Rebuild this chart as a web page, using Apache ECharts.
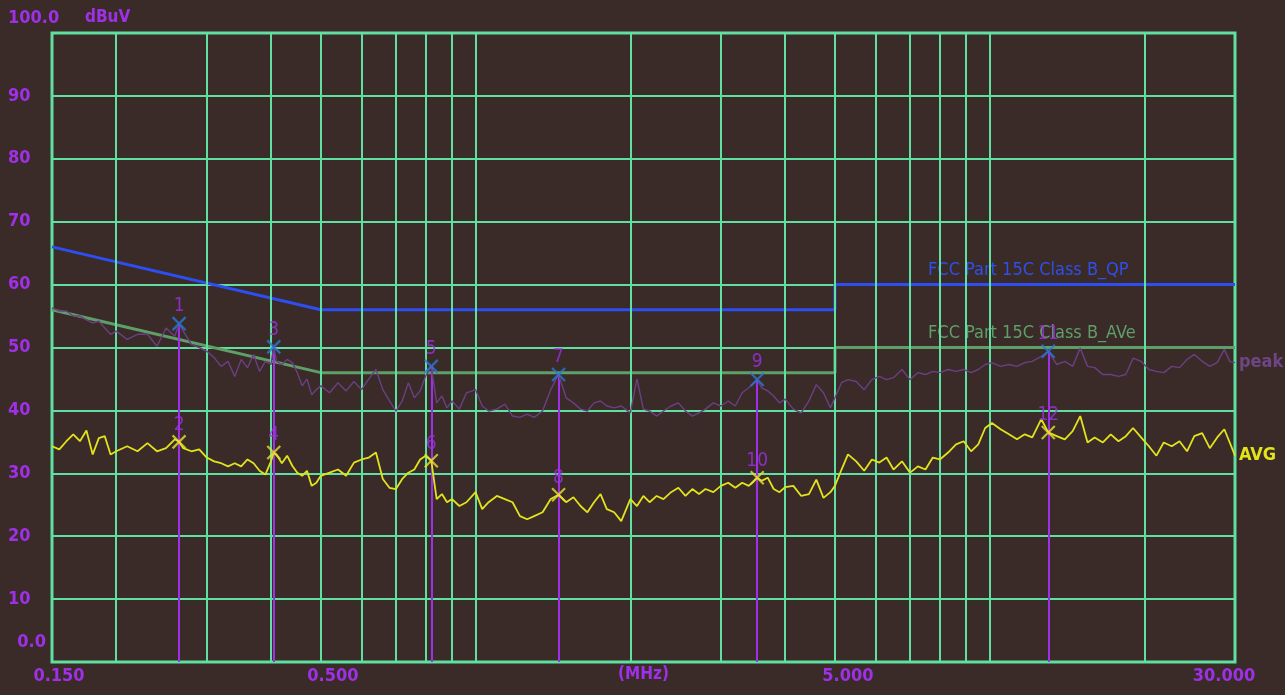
<!DOCTYPE html>
<html>
<head>
<meta charset="utf-8">
<script src="https://cdn.jsdelivr.net/npm/echarts@6/dist/echarts.min.js"></script>
<style>
  html, body { margin: 0; padding: 0; background: #3a2b29; }
  #chart { width: 1285px; height: 695px; }
</style>
</head>
<body>
<div id="chart"></div>
<script>
// Scan frequencies (MHz)
const freqs = [
  0.150, 0.155, 0.160, 0.165, 0.170, 0.175, 0.180, 0.185, 0.190, 0.195,
  0.200, 0.210, 0.220, 0.230, 0.240, 0.250, 0.260, 0.265, 0.270, 0.280,
  0.290, 0.300, 0.310, 0.320, 0.330, 0.340, 0.350, 0.360, 0.370, 0.380,
  0.390, 0.400, 0.405, 0.410, 0.420, 0.430, 0.440, 0.450, 0.460, 0.470,
  0.480, 0.490, 0.500, 0.520, 0.540, 0.560, 0.580, 0.600, 0.620, 0.640,
  0.660, 0.680, 0.700, 0.720, 0.740, 0.760, 0.780, 0.800, 0.820, 0.840,
  0.860, 0.880, 0.900, 0.930, 0.960, 1.00, 1.03, 1.06, 1.10, 1.14,
  1.18, 1.22, 1.26, 1.30, 1.35, 1.40, 1.45, 1.50, 1.55, 1.60,
  1.65, 1.70, 1.75, 1.80, 1.86, 1.92, 2.00, 2.06, 2.12, 2.18,
  2.25, 2.32, 2.40, 2.48, 2.56, 2.64, 2.72, 2.80, 2.90, 3.00,
  3.10, 3.20, 3.30, 3.40, 3.53, 3.60, 3.70, 3.80, 3.90, 4.00,
  4.15, 4.30, 4.45, 4.60, 4.75, 4.90, 5.00, 5.15, 5.30, 5.50,
  5.70, 5.90, 6.10, 6.30, 6.50, 6.75, 7.00, 7.25, 7.50, 7.75,
  8.00, 8.30, 8.60, 8.90, 9.20, 9.50, 9.80, 10.1, 10.5, 10.9,
  11.3, 11.7, 12.1, 12.6, 13.0, 13.5, 14.0, 14.5, 15.0, 15.5,
  16.0, 16.6, 17.2, 17.8, 18.4, 19.0, 19.7, 20.4, 21.1, 21.8,
  22.6, 23.4, 24.2, 25.0, 25.9, 26.8, 27.7, 28.6, 29.3, 30.0
];

// Peak detector trace (dBuV)
const peakLevels = [
  56.3, 55.8, 55.8, 55.0, 55.0, 54.4, 53.9, 54.2, 53.1, 52.1,
  52.6, 51.3, 52.1, 52.1, 50.2, 53.1, 51.8, 53.8, 52.6, 50.5,
  50.0, 49.4, 48.4, 47.0, 47.8, 45.4, 48.1, 46.8, 48.9, 46.2,
  47.8, 47.3, 50.1, 47.8, 47.3, 48.1, 47.6, 46.0, 43.9, 45.0,
  42.5, 43.3, 43.9, 42.8, 44.4, 43.1, 44.6, 43.3, 45.0, 46.5,
  43.3, 41.5, 39.9, 41.5, 44.4, 42.0, 43.1, 45.5, 47.0, 41.2,
  42.3, 40.4, 41.5, 40.2, 42.8, 43.3, 40.7, 39.9, 40.2, 41.0,
  39.1, 38.9, 39.4, 38.9, 39.9, 43.3, 45.7, 42.0, 41.2, 40.2,
  39.9, 41.2, 41.5, 40.7, 40.4, 40.7, 39.6, 45.0, 40.2, 39.9,
  39.1, 39.9, 40.7, 41.2, 39.9, 39.1, 39.6, 40.2, 41.2, 40.7,
  41.5, 40.7, 42.8, 43.6, 44.9, 43.6, 43.1, 42.3, 41.2, 41.8,
  40.2, 39.6, 41.5, 44.1, 42.8, 40.4, 42.0, 44.4, 44.9, 44.6,
  43.3, 44.9, 45.4, 44.9, 45.2, 46.5, 44.9, 46.0, 45.7, 46.2,
  46.0, 46.5, 46.2, 46.5, 46.0, 46.5, 47.3, 47.6, 47.0, 47.3,
  47.0, 47.6, 47.8, 48.6, 49.4, 47.3, 47.8, 47.0, 49.9, 47.0,
  46.8, 45.7, 45.7, 45.4, 45.7, 48.3, 47.8, 46.5, 46.2, 46.0,
  47.0, 46.8, 48.1, 48.9, 47.8, 47.0, 47.6, 49.7, 47.8, 47.6
];

// Average detector trace (dBuV)
const avgLevels = [
  34.3, 33.8, 35.1, 36.2, 35.1, 36.8, 33.0, 35.6, 35.9, 33.0,
  33.5, 34.3, 33.5, 34.8, 33.5, 34.0, 35.4, 35.0, 34.0, 33.5,
  33.8, 32.5, 31.9, 31.6, 31.1, 31.6, 31.1, 32.2, 31.6, 30.4,
  29.8, 31.9, 33.3, 33.0, 31.6, 32.8, 31.2, 30.1, 29.6, 30.4,
  28.0, 28.5, 29.6, 30.1, 30.6, 29.6, 31.7, 32.2, 32.5, 33.3,
  29.1, 27.7, 27.5, 29.1, 30.1, 30.6, 32.2, 32.8, 32.0, 25.9,
  26.7, 25.4, 25.9, 24.8, 25.4, 27.0, 24.3, 25.4, 26.4, 25.9,
  25.4, 23.2, 22.7, 23.2, 23.8, 25.9, 26.6, 25.4, 26.2, 24.8,
  23.8, 25.4, 26.7, 24.3, 23.8, 22.4, 25.9, 24.8, 26.4, 25.4,
  26.4, 25.9, 27.0, 27.7, 26.4, 27.5, 26.7, 27.5, 27.0, 28.0,
  28.5, 27.7, 28.5, 28.0, 29.3, 28.8, 29.3, 27.5, 27.0, 27.8,
  28.0, 26.4, 26.7, 29.0, 26.1, 27.0, 28.0, 30.6, 33.0, 31.9,
  30.4, 32.2, 31.7, 32.5, 30.6, 31.9, 30.1, 31.1, 30.6, 32.5,
  32.2, 33.3, 34.6, 35.1, 33.5, 34.6, 37.2, 38.0, 37.0, 36.2,
  35.4, 36.2, 35.7, 38.6, 36.5, 35.9, 35.4, 36.7, 39.1, 34.9,
  35.7, 34.9, 36.2, 35.1, 35.9, 37.2, 35.7, 34.3, 32.8, 34.9,
  34.3, 35.1, 33.5, 35.9, 36.4, 34.0, 35.7, 37.0, 34.9, 32.8
];

// FCC Part 15C Class B limits (MHz, dBuV)
const qpLimit = [[0.15, 66], [0.5, 56], [5, 56], [5, 60], [30, 60]];
const avLimit = [[0.15, 56], [0.5, 46], [5, 46], [5, 50], [30, 50]];

// Marked emissions
const markerFreqs = [0.265, 0.405, 0.82, 1.45, 3.53, 13.0];
const peakMarks = [53.8, 50.1, 47.0, 45.7, 44.9, 49.4];
const avgMarks = [35.0, 33.3, 32.0, 26.6, 29.3, 36.5];
const peakMarkNames = ['1', '3', '5', '7', '9', '11'];
const avgMarkNames = ['2', '4', '6', '8', '10', '12'];

// Log-grid verticals and labelled frequencies
const gridFreqs = [0.2, 0.3, 0.4, 0.5, 0.6, 0.7, 0.8, 0.9, 1, 2, 3, 4, 5, 6, 7, 8, 9, 10, 20];
const xTickLabels = [[0.15, '0.150'], [0.5, '0.500'], [5, '5.000'], [30, '30.000']];

const FONT = "'DejaVu Sans Condensed', 'DejaVu Sans', sans-serif";
const PURPLE = '#a030e8';
const GRIDC = '#5fe0a0';
const BG = '#3a2b29';

const chart = echarts.init(document.getElementById('chart'), null, { renderer: 'canvas' });

const X_SYMBOL = 'path://M0,0L10,10M10,0L0,10';

function markerLines() {
  const out = [];
  markerFreqs.forEach((f, i) => {
    out.push([{ coord: [f, peakMarks[i]] }, { coord: [f, 0] }]);
    out.push([{ coord: [f, avgMarks[i]] }, { coord: [f, 0] }]);
  });
  return out;
}

const option = {
  backgroundColor: BG,
  animation: false,
  grid: {
    left: 52, right: 50, top: 33, bottom: 33,
    show: true, borderColor: GRIDC, borderWidth: 3, backgroundColor: 'transparent'
  },
  xAxis: {
    type: 'log', logBase: 10, min: 0.15, max: 30,
    axisLine: { show: false }, axisTick: { show: false },
    axisLabel: { show: false }, splitLine: { show: false },
    name: '(MHz)', nameLocation: 'middle', nameGap: 4,
    nameTextStyle: { color: PURPLE, fontFamily: FONT, fontSize: 17, fontWeight: 'bold', verticalAlign: 'top' }
  },
  yAxis: {
    type: 'value', min: 0, max: 100, interval: 10,
    axisLine: { show: false }, axisTick: { show: false },
    splitLine: { lineStyle: { color: GRIDC, width: 2 } },
    axisLabel: {
      color: PURPLE, fontFamily: FONT, fontSize: 18, fontWeight: 'bold', align: 'left', margin: 44,
      formatter: v => (v === 0 || v === 100) ? '' : String(v)
    }
  },
  series: [
    {
      // vertical log grid
      type: 'line', data: [], silent: true, z: 1,
      markLine: {
        silent: true, symbol: ['none', 'none'], label: { show: false },
        lineStyle: { color: GRIDC, width: 2, type: 'solid' },
        data: gridFreqs.map(f => ({ xAxis: f }))
      }
    },
    {
      name: 'QP limit', type: 'line', data: qpLimit, showSymbol: false, z: 3,
      lineStyle: { color: '#2d4ef0', width: 3 }
    },
    {
      name: 'AV limit', type: 'line', data: avLimit, showSymbol: false, z: 3,
      lineStyle: { color: '#5e9f68', width: 3 }
    },
    {
      // marker drop lines
      type: 'line', data: [], silent: true, z: 4,
      markLine: {
        silent: true, symbol: ['none', 'none'], label: { show: false },
        lineStyle: { color: PURPLE, width: 2, type: 'solid' },
        data: markerLines()
      }
    },
    {
      name: 'peak', type: 'line', showSymbol: false, z: 5,
      data: freqs.map((f, i) => [f, peakLevels[i]]),
      lineStyle: { color: '#6b3f82', width: 1.4 },
      endLabel: { show: true, formatter: 'peak', color: '#6e4585', fontFamily: FONT, fontSize: 18, fontWeight: 'bold', distance: 4 }
    },
    {
      name: 'AVG', type: 'line', showSymbol: false, z: 6,
      data: freqs.map((f, i) => [f, avgLevels[i]]),
      lineStyle: { color: '#e3e31c', width: 1.8 },
      endLabel: { show: true, formatter: 'AVG', color: '#e3e31c', fontFamily: FONT, fontSize: 18, fontWeight: 'bold', distance: 4 }
    },
    {
      type: 'scatter', z: 8, symbol: X_SYMBOL, symbolSize: 13,
      data: markerFreqs.map((f, i) => [f, peakMarks[i]]),
      itemStyle: { color: 'rgba(0,0,0,0)', borderColor: '#2a78d8', borderWidth: 2.2 },
      label: {
        show: true, position: 'top', distance: 0, color: PURPLE, fontFamily: FONT, fontSize: 19,
        formatter: p => peakMarkNames[p.dataIndex]
      }
    },
    {
      type: 'scatter', z: 8, symbol: X_SYMBOL, symbolSize: 13,
      data: markerFreqs.map((f, i) => [f, avgMarks[i]]),
      itemStyle: { color: 'rgba(0,0,0,0)', borderColor: '#e8e030', borderWidth: 2.2 },
      label: {
        show: true, position: 'top', distance: 0, color: PURPLE, fontFamily: FONT, fontSize: 19,
        formatter: p => avgMarkNames[p.dataIndex]
      }
    }
  ]
};

chart.setOption(option);

// Text that sits outside the axis label slots
const textStyle = (text, fill, extra) =>
  Object.assign({ text, fill, fontFamily: FONT, fontSize: 18, fontWeight: 'bold' }, extra || {});
const graphics = [
  { type: 'text', x: 8, y: 18, style: textStyle('100.0', PURPLE, { verticalAlign: 'middle' }) },
  { type: 'text', x: 85, y: 18, style: textStyle('dBuV', PURPLE, { verticalAlign: 'middle', fontSize: 17 }) },
  { type: 'text', x: 46, y: 642, style: textStyle('0.0', PURPLE, { align: 'right', verticalAlign: 'middle' }) },
  { type: 'text', x: 928, y: 270, style: textStyle('FCC Part 15C Class B_QP', '#2f4fe8', { verticalAlign: 'middle', fontWeight: 'normal' }) },
  { type: 'text', x: 928, y: 333, style: textStyle('FCC Part 15C Class B_AVe', '#5e9f68', { verticalAlign: 'middle', fontWeight: 'normal' }) }
];
const labelShift = { '0.150': 7, '0.500': 12, '5.000': 13, '30.000': -11 };
xTickLabels.forEach(([f, txt]) => {
  const px = chart.convertToPixel({ xAxisIndex: 0 }, f);
  graphics.push({
    type: 'text', x: px + labelShift[txt], y: 676,
    style: textStyle(txt, PURPLE, { align: 'center', verticalAlign: 'middle', fontSize: 18 })
  });
});
chart.setOption({ graphic: graphics });
</script>
</body>
</html>
